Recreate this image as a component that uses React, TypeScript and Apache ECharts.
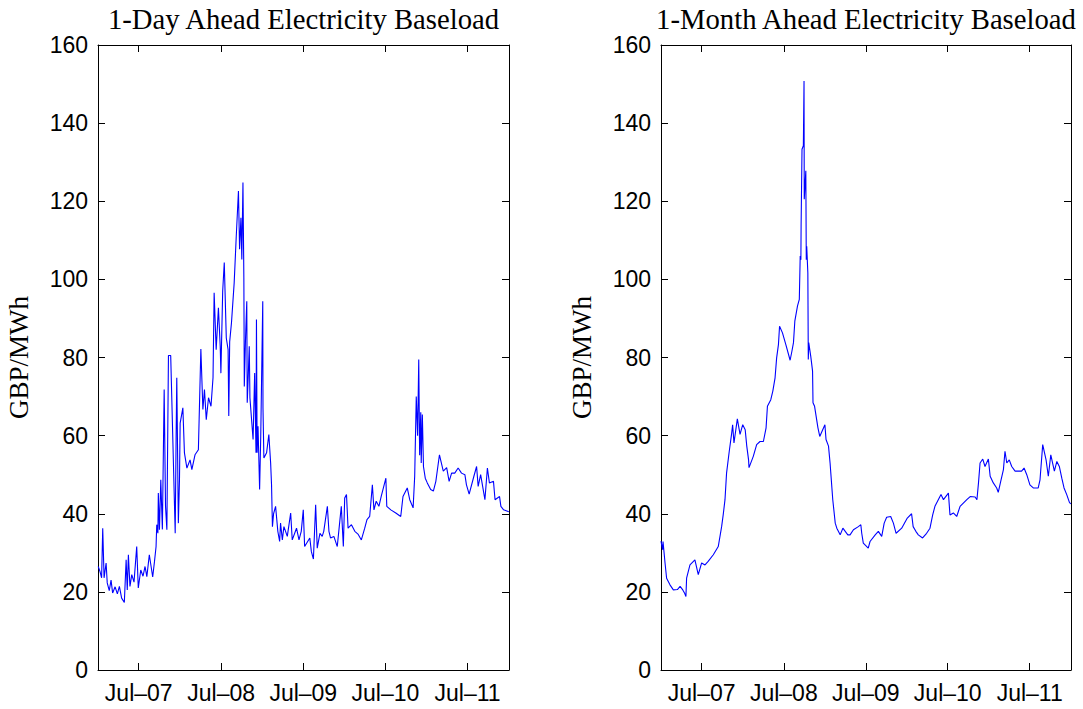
import React, { useEffect, useRef } from "react";
import * as echarts from "echarts";

// 1-Day Ahead baseload (GBP/MWh)
const dayDates = [
  "2007-01-02","2007-01-10","2007-01-17","2007-01-22","2007-01-28","2007-02-06","2007-02-11","2007-02-20","2007-02-28","2007-03-07",
  "2007-03-18","2007-03-28","2007-04-06","2007-04-16","2007-04-28","2007-05-06","2007-05-11","2007-05-16","2007-05-23","2007-05-31",
  "2007-06-10","2007-06-22","2007-06-29","2007-07-10","2007-07-20","2007-07-29","2007-08-06","2007-08-17","2007-09-01","2007-09-09",
  "2007-09-16","2007-09-19","2007-09-24","2007-09-26","2007-10-01","2007-10-07","2007-10-14","2007-10-22","2007-10-28","2007-11-03",
  "2007-11-10","2007-11-20","2007-12-10","2007-12-14","2007-12-17","2007-12-24","2007-12-29",
  "2008-01-01","2008-01-13","2008-01-20","2008-01-31","2008-02-14","2008-02-22","2008-03-07","2008-03-22","2008-04-02","2008-04-11",
  "2008-04-18","2008-04-26","2008-05-06","2008-05-17","2008-05-26","2008-05-31","2008-06-09","2008-06-19","2008-06-27","2008-06-30",
  "2008-07-08","2008-07-15","2008-07-24","2008-08-01","2008-08-04","2008-08-08","2008-08-16","2008-08-28","2008-09-06","2008-09-16",
  "2008-09-21","2008-09-27","2008-10-01","2008-10-06","2008-10-10","2008-10-12","2008-10-17","2008-10-23","2008-10-25","2008-10-30",
  "2008-11-03","2008-11-06","2008-11-20","2008-11-27","2008-12-03","2008-12-05","2008-12-08","2008-12-12","2008-12-19","2008-12-24",
  "2009-01-02","2009-01-03","2009-01-07","2009-01-19","2009-01-29","2009-02-06","2009-02-10","2009-02-14","2009-02-19","2009-02-28",
  "2009-03-10","2009-03-18","2009-03-22","2009-03-30","2009-04-06","2009-04-21","2009-05-06","2009-05-13","2009-06-01","2009-06-12",
  "2009-06-22","2009-07-01","2009-07-07","2009-07-30","2009-08-06","2009-08-15","2009-08-25","2009-09-01","2009-09-13","2009-09-23",
  "2009-09-30","2009-10-16","2009-10-23","2009-10-30","2009-11-14","2009-11-29","2009-12-11","2009-12-17","2009-12-26",
  "2010-01-01","2010-01-09","2010-01-16","2010-01-31","2010-02-15","2010-03-01","2010-03-16","2010-03-31","2010-04-10","2010-04-22",
  "2010-05-04","2010-05-11","2010-05-21","2010-06-02","2010-06-12","2010-07-03","2010-07-07","2010-07-25","2010-08-16","2010-09-07",
  "2010-09-17","2010-10-06","2010-10-17","2010-11-01","2010-11-08","2010-11-15","2010-11-21","2010-11-26","2010-11-30","2010-12-05",
  "2010-12-07","2010-12-12","2010-12-17","2010-12-25",
  "2011-01-03","2011-01-18","2011-01-30","2011-02-10","2011-02-26","2011-03-15","2011-03-30","2011-04-10","2011-04-21","2011-05-05",
  "2011-05-20","2011-06-04","2011-06-19","2011-06-26","2011-07-08","2011-07-29","2011-08-10","2011-08-17","2011-08-28","2011-09-16",
  "2011-09-27","2011-10-06","2011-10-24","2011-10-31","2011-11-20","2011-11-26","2011-12-08","2011-12-31",
];
const dayValues = [
  26.5, 25.2, 23.6, 36.3, 23.6, 27.4, 22.3, 20.3, 23.0, 19.7,
  21.3, 19.5, 21.4, 18.4, 17.3, 28.2, 20.5, 29.5, 21.4, 24.4,
  22.5, 31.6, 21.0, 25.6, 24.0, 26.5, 23.9, 29.5, 23.8, 27.8,
  31.6, 37.2, 35.0, 45.3, 35.9, 48.7, 36.0, 71.8, 41.9, 35.9,
  80.5, 80.5, 35.0, 59.0, 74.8, 37.6, 48.7,
  63.2, 67.1, 55.6, 51.7, 53.8, 51.3, 55.1, 56.4, 82.2, 66.7,
  71.8, 64.1, 69.7, 67.5, 74.8, 96.6, 82.0, 92.7, 82.9, 76.0,
  97.0, 104.3, 85.0, 82.0, 65.0, 84.0, 88.9, 99.1, 110.7, 122.6,
  107.7, 115.8, 105.1, 124.8, 100.4, 72.6, 84.0, 94.4, 68.4, 76.0,
  82.9, 69.7, 59.0, 76.0, 55.6, 89.7, 55.6, 62.4, 46.2, 59.8,
  94.4, 67.1, 54.3, 55.6, 60.3, 53.0, 47.4, 36.7, 40.0, 41.9,
  35.5, 32.9, 37.6, 33.3, 36.7, 34.2, 40.2, 33.3, 36.3, 33.3,
  35.5, 41.0, 31.6, 33.8, 30.3, 28.4, 42.3, 31.2, 35.0, 34.2,
  35.5, 41.9, 35.5, 33.8, 34.2, 31.6, 38.5, 41.9, 31.6,
  44.0, 44.9, 36.3, 37.2, 35.5, 34.8, 33.3, 36.3, 38.5, 39.3,
  47.4, 41.0, 43.2, 41.9, 44.4, 49.1, 41.9, 41.0, 40.2, 39.3,
  44.4, 46.6, 43.6, 41.5, 49.6, 70.0, 60.0, 79.5, 55.0, 66.0,
  53.0, 65.4, 52.1, 49.1,
  47.9, 46.2, 45.8, 48.3, 55.1, 50.9, 51.8, 48.3, 50.4, 50.4,
  51.7, 50.4, 50.0, 47.4, 45.0, 49.6, 52.1, 47.0, 50.0, 43.6,
  51.7, 47.9, 48.3, 43.6, 44.4, 41.9, 41.0, 40.5,
];

// 1-Month Ahead baseload (GBP/MWh)
const monthDates = [
  "2007-01-01","2007-01-08","2007-01-10","2007-01-19","2007-01-26","2007-02-03","2007-02-10","2007-02-25","2007-03-15","2007-03-27",
  "2007-04-08","2007-04-15","2007-04-22","2007-04-25","2007-05-10","2007-06-01","2007-06-16","2007-07-01","2007-07-16","2007-07-30",
  "2007-08-22","2007-09-13","2007-09-28","2007-10-05","2007-10-13","2007-10-20","2007-11-01","2007-11-12","2007-11-16","2007-11-22",
  "2007-12-07","2007-12-19","2007-12-31",
  "2008-01-11","2008-01-18","2008-01-26","2008-01-28","2008-02-16","2008-03-02","2008-03-17","2008-04-01","2008-04-13","2008-04-19",
  "2008-05-04","2008-05-13","2008-05-23","2008-05-30","2008-06-07","2008-06-12","2008-06-25","2008-07-10","2008-07-29","2008-08-06",
  "2008-08-13","2008-08-19","2008-08-31","2008-09-08","2008-09-12","2008-09-15","2008-09-16","2008-09-20","2008-09-26","2008-09-29",
  "2008-09-30","2008-10-07","2008-10-09","2008-10-11","2008-10-16","2008-10-18","2008-10-20","2008-10-29","2008-11-06","2008-11-08",
  "2008-11-15","2008-11-30","2008-12-08","2008-12-31",
  "2009-01-05","2009-01-16","2009-01-23","2009-02-04","2009-02-15","2009-02-22","2009-03-09","2009-03-21","2009-04-12","2009-04-22",
  "2009-05-07","2009-05-29","2009-06-09","2009-06-13","2009-06-20","2009-07-12","2009-07-20","2009-08-12","2009-08-26","2009-09-10",
  "2009-09-21","2009-10-02","2009-10-20","2009-11-01","2009-11-13","2009-12-08",
  "2010-01-02","2010-01-21","2010-01-28","2010-02-09","2010-02-20","2010-03-11","2010-03-29","2010-04-13","2010-04-25","2010-05-05",
  "2010-06-01","2010-06-12","2010-07-04","2010-07-11","2010-07-26","2010-08-10","2010-08-25","2010-09-24","2010-10-09","2010-10-31",
  "2010-11-08","2010-11-15","2010-11-22","2010-12-04","2010-12-14","2010-12-29",
  "2011-01-06","2011-01-20","2011-02-04","2011-02-11","2011-02-22","2011-03-06","2011-03-13","2011-03-21","2011-04-01","2011-04-12",
  "2011-04-27","2011-05-26","2011-06-06","2011-06-18","2011-07-02","2011-07-17","2011-08-08","2011-08-16","2011-08-28","2011-09-12",
  "2011-09-22","2011-10-03","2011-10-19","2011-10-30","2011-11-10","2011-11-21","2011-12-01","2011-12-13","2011-12-25","2011-12-31",
];
const monthValues = [
  33.0, 30.8, 32.9, 27.4, 23.5, 22.6, 21.8, 20.5, 20.6, 21.4,
  20.5, 19.8, 18.8, 23.5, 26.9, 28.2, 24.4, 27.4, 26.9, 27.8,
  29.5, 31.6, 36.7, 39.7, 43.6, 50.4, 56.0, 60.7, 62.8, 58.1,
  64.3, 60.3, 62.8,
  61.5, 57.3, 53.8, 51.8, 54.7, 57.7, 58.5, 58.5, 62.0, 67.5,
  69.2, 71.4, 74.8, 79.9, 83.3, 88.0, 86.3, 83.3, 79.3, 81.6,
  83.8, 89.3, 93.2, 94.9, 106.0, 105.0, 113.7, 133.3, 134.2, 150.8,
  120.5, 127.8, 105.0, 108.5, 101.7, 79.5, 83.8, 80.3, 76.5, 68.4,
  67.5, 62.0, 59.8, 62.8,
  59.0, 57.3, 53.0, 43.6, 37.6, 36.3, 34.6, 36.3, 34.6, 34.6,
  35.9, 36.7, 37.2, 35.0, 32.5, 31.2, 32.9, 34.6, 35.5, 34.2,
  37.6, 39.1, 39.3, 37.6, 35.0, 36.3,
  38.9, 40.0, 36.7, 35.5, 34.6, 33.8, 35.0, 36.3, 39.7, 41.9,
  44.9, 43.6, 45.3, 39.7, 40.2, 39.3, 41.9, 43.6, 44.4, 44.3,
  43.6, 47.9, 53.0, 54.0, 52.1, 54.0,
  49.6, 47.9, 46.6, 45.5, 48.3, 51.3, 56.0, 53.0, 53.8, 52.1,
  50.9, 50.9, 51.7, 50.0, 47.4, 46.6, 46.6, 48.7, 57.7, 53.8,
  49.6, 55.1, 50.9, 53.4, 52.1, 49.1, 46.6, 44.9, 42.9, 42.5,
];

const tickDates = ["2007-07-01", "2008-07-01", "2009-07-01", "2010-07-01", "2011-07-01"];
const titles = ["1-Day Ahead Electricity Baseload", "1-Month Ahead Electricity Baseload"];
const yName = "GBP/MWh";

const ts = (s: string) => {
  const [y, m, d] = s.split("-").map(Number);
  return Date.UTC(y, m - 1, d);
};
const X_MIN = ts("2007-01-01");
const X_MAX = ts("2012-01-01");
const tickTs = tickDates.map(ts);
const fmtX = (v: number) => "Jul\u2013" + String(new Date(v).getUTCFullYear()).slice(2);

const SANS = "'Liberation Sans', Arial, Helvetica, sans-serif";
const SERIF = "'Liberation Serif', 'Times New Roman', serif";

export default function App() {
  const ref = useRef<HTMLDivElement>(null);
  useEffect(() => {
    if (!ref.current) return;
    const chart = echarts.init(ref.current, undefined, { renderer: "svg" });
    const grids = [
      { left: 98, top: 45, width: 411, height: 625 },
      { left: 661, top: 45, width: 410, height: 625 },
    ];
    const lineStyle = { color: "#000", width: 1 };
    const xAxes: any[] = [];
    const yAxes: any[] = [];
    grids.forEach((_, gi) => {
      xAxes.push({
        type: "value", gridIndex: gi, position: "bottom", min: X_MIN, max: X_MAX,
        axisLine: { show: true, onZero: false, lineStyle },
        axisTick: { show: true, inside: true, length: 7, customValues: tickTs, lineStyle },
        axisLabel: { show: true, customValues: tickTs, formatter: fmtX, margin: 11, color: "#000", fontFamily: SANS, fontSize: 23 },
        splitLine: { show: false },
      });
      xAxes.push({
        type: "value", gridIndex: gi, position: "top", min: X_MIN, max: X_MAX,
        axisLine: { show: true, onZero: false, lineStyle },
        axisTick: { show: true, inside: true, length: 7, customValues: tickTs, lineStyle },
        axisLabel: { show: false },
        splitLine: { show: false },
      });
      yAxes.push({
        type: "value", gridIndex: gi, position: "left", min: 0, max: 160, interval: 20,
        name: yName, nameLocation: "middle", nameGap: 66, nameRotate: 90,
        nameTextStyle: { fontFamily: SERIF, fontSize: 27, color: "#000" },
        axisLine: { show: true, onZero: false, lineStyle },
        axisTick: { show: true, inside: true, length: 7, lineStyle },
        axisLabel: { show: true, margin: 10, color: "#000", fontFamily: SANS, fontSize: 23 },
        splitLine: { show: false },
      });
      yAxes.push({
        type: "value", gridIndex: gi, position: "right", min: 0, max: 160, interval: 20,
        axisLine: { show: true, onZero: false, lineStyle },
        axisTick: { show: true, inside: true, length: 7, lineStyle },
        axisLabel: { show: false },
        splitLine: { show: false },
      });
    });
    const mk = (dates: string[], vals: number[]) => dates.map((d, i) => [ts(d), vals[i]]);
    chart.setOption({
      animation: false,
      backgroundColor: "#fff",
      title: titles.map((t, i) => ({
        text: t,
        left: grids[i].left + grids[i].width / 2,
        top: 4,
        textAlign: "center",
        padding: 0,
        textStyle: { fontFamily: SERIF, fontSize: 28.7, fontWeight: "normal", color: "#000" },
      })),
      grid: grids,
      xAxis: xAxes,
      yAxis: yAxes,
      series: [
        {
          type: "line", xAxisIndex: 0, yAxisIndex: 0, data: mk(dayDates, dayValues),
          showSymbol: false, lineStyle: { color: "#0000ff", width: 1.1 }, clip: true,
        },
        {
          type: "line", xAxisIndex: 2, yAxisIndex: 2, data: mk(monthDates, monthValues),
          showSymbol: false, lineStyle: { color: "#0000ff", width: 1.1 }, clip: true,
        },
      ],
    });
    return () => chart.dispose();
  }, []);
  return <div ref={ref} style={{ position: "fixed", left: 0, top: 0, width: 1083, height: 709, background: "#fff" }} />;
}
